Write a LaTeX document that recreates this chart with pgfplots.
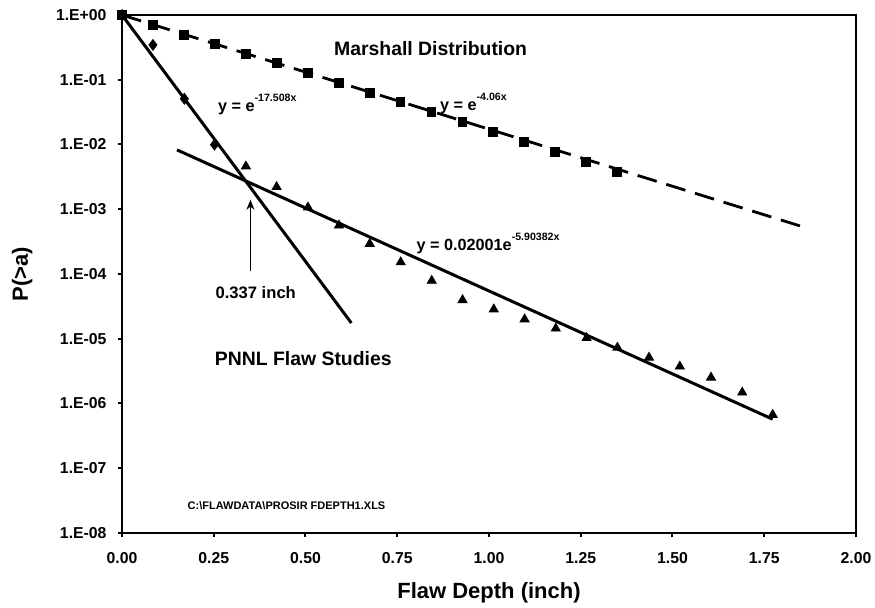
\documentclass[border=0pt]{standalone}
\usepackage{fontspec}
\setmainfont{Liberation Sans}
\usepackage{pgfplots}
\pgfplotsset{compat=1.18}
\usetikzlibrary{arrows.meta}

\newcommand{\expo}[1]{\raisebox{0.6em}{\fontsize{5.3}{6}\selectfont #1}}

% Marshall distribution points
\pgfplotstableread{
x       y
0.0000  1.0
0.0843  0.701
0.1686  0.496
0.2529  0.3527
0.3372  0.250
0.4215  0.1795
0.5058  0.1259
0.5901  0.0900
0.6744  0.0631
0.7587  0.0449
0.8430  0.0321
0.9273  0.0225
1.0116  0.0158
1.0959  0.01105
1.1802  0.00774
1.2645  0.00542
1.3488  0.00376
}\marshall

% PNNL flaw studies, small flaws
\pgfplotstableread{
x       y
0.0000  1.0
0.0843  0.345
0.1700  0.0508
0.2520  0.00993
}\pnnlsmall

% PNNL flaw studies, larger flaws
\pgfplotstableread{
x       y
0.3376  4.60e-3
0.4213  2.21e-3
0.5067  1.07e-3
0.5912  5.61e-4
0.6750  2.93e-4
0.7595  1.52e-4
0.8440  7.88e-5
0.9280  3.96e-5
1.0130  2.85e-5
1.0970  2.00e-5
1.1820  1.44e-5
1.2660  1.03e-5
1.3500  7.31e-6
1.4360  5.13e-6
1.5200  3.73e-6
1.6050  2.52e-6
1.6900  1.48e-6
1.7730  6.70e-7
}\pnnllarge

\begin{document}
\begin{tikzpicture}
\path[use as bounding box] (-61pt,-37.5pt) rectangle (376.5pt,266.5pt);
\begin{axis}[
    scale only axis,
    width=367pt, height=259pt,
    xmin=0, xmax=2,
    ymode=log, ymin=1e-8, ymax=1,
    clip=false,
    xtick={0,0.25,0.5,0.75,1,1.25,1.5,1.75,2},
    xticklabels={0.00,0.25,0.50,0.75,1.00,1.25,1.50,1.75,2.00},
    ytick={1,1e-1,1e-2,1e-3,1e-4,1e-5,1e-6,1e-7,1e-8},
    yticklabels={1.E+00,1.E-01,1.E-02,1.E-03,1.E-04,1.E-05,1.E-06,1.E-07,1.E-08},
    yminorticks=false,
    tick align=outside,
    xtick pos=bottom, ytick pos=left,
    major tick length=2.2pt,
    every tick/.style={black, line width=1pt},
    axis line style={line width=1.1pt},
    tick label style={font=\fontsize{7.9}{9}\selectfont\bfseries},
    xticklabel style={yshift=-4pt},
    yticklabel style={xshift=-2pt},
    xlabel={Flaw Depth (inch)},
    ylabel={P(>a)},
    label style={font=\fontsize{11}{13}\selectfont\bfseries},
    xlabel style={at={(axis description cs:0.5,-0.116)}, anchor=center},
    ylabel style={at={(axis description cs:-0.136,0.5)}, anchor=center},
]
% trend lines
\addplot[black, line width=1.4pt, dash pattern=on 10pt off 5pt] coordinates {(0,1) (1.861,5.23e-4)};
\addplot[black, line width=1.5pt] coordinates {(0,1) (0.625,1.75e-5)};
\addplot[black, line width=1.5pt] coordinates {(0.15,8.25e-3) (1.773,5.72e-7)};
% data points
\addplot[only marks, mark=square*, mark size=2.2pt, black] table {\marshall};
\addplot[only marks, mark=diamond*, mark size=2.7pt, black] table {\pnnlsmall};
\addplot[only marks, mark=triangle*, mark size=2.6pt, black] table {\pnnllarge};
% arrow to the intersection
\draw[line width=0.5pt, -{Stealth[length=5pt,width=4pt]}] (axis cs:0.35,1.1e-4) -- (axis cs:0.35,1.4e-3);
% annotations
\begin{scope}[every node/.style={inner sep=0pt, font=\bfseries}]
\node[anchor=base west, font=\fontsize{9.7}{11}\selectfont\bfseries] at (axis cs:0.577,0.24) {Marshall Distribution};
\node[anchor=base west, font=\fontsize{8.1}{9}\selectfont\bfseries] at (axis cs:0.261,0.0324) {y = e\expo{-17.508x}};
\node[anchor=base west, font=\fontsize{8.1}{9}\selectfont\bfseries] at (axis cs:0.866,0.0335) {y = e\expo{-4.06x}};
\node[anchor=base west, font=\fontsize{8.1}{9}\selectfont\bfseries] at (axis cs:0.802,2.33e-4) {y = 0.02001e\expo{-5.90382x}};
\node[anchor=base west, font=\fontsize{8.3}{9}\selectfont\bfseries] at (axis cs:0.254,4.25e-5) {0.337 inch};
\node[anchor=base west, font=\fontsize{9.7}{11}\selectfont\bfseries] at (axis cs:0.252,3.81e-6) {PNNL Flaw Studies};
\node[anchor=base west, font=\fontsize{5.5}{6}\selectfont\bfseries] at (axis cs:0.178,2.30e-8) {C:\textbackslash FLAWDATA\textbackslash PROSIR FDEPTH1.XLS};
\end{scope}
\end{axis}
\end{tikzpicture}
\end{document}
